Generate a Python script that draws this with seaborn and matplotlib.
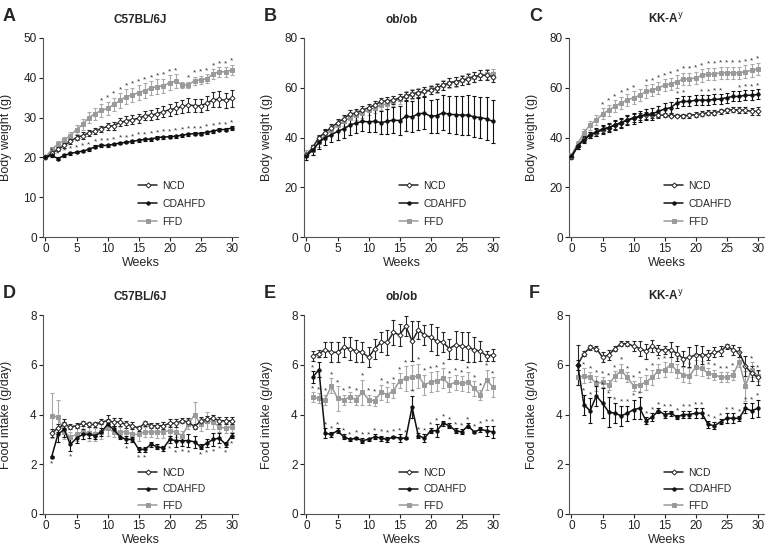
import numpy as np
import pandas as pd
import matplotlib
matplotlib.use("Agg")
import matplotlib.pyplot as plt
import seaborn as sns

sns.set_theme(style="ticks")
plt.rcParams['font.family'] = ['Liberation Sans', 'DejaVu Sans']

weeks_bw = list(range(0, 31))
weeks_fi = list(range(1, 31))
diets = ["NCD", "CDAHFD", "FFD"]

# ---------- Body weight (A-C) ----------
A_NCD = [20, 21, 22, 23, 24, 25, 25.5, 26.2, 26.7, 27.2, 27.8, 28, 28.8, 29.2, 29.5, 29.8, 30.5, 30.6, 31, 31.5, 32, 32.3, 32.8, 33.2, 33, 33, 33.6, 34.5, 34.6, 34.3, 34.8]
A_NCD_err = [0.3, 0.4, 0.5, 0.6, 0.6, 0.7, 0.8, 0.8, 0.8, 0.8, 0.9, 1.0, 1.0, 1.1, 1.1, 1.2, 1.2, 1.3, 1.3, 1.4, 1.5, 1.5, 1.6, 1.7, 1.7, 1.7, 1.8, 1.9, 2.0, 2.0, 2.1]
A_CDAHFD = [20, 20.5, 19.7, 20.5, 21, 21.3, 21.6, 22, 22.7, 23, 23, 23.3, 23.6, 23.8, 24, 24.3, 24.5, 24.6, 25, 25.1, 25.2, 25.3, 25.6, 25.8, 26, 26, 26.3, 26.6, 27, 27, 27.4]
A_CDAHFD_err = [0.3] * 15 + [0.4] * 16
A_FFD = [20, 22, 23.3, 24.3, 25.5, 27, 28.3, 30, 31, 31.8, 32.3, 33.3, 34.3, 35.3, 35.7, 36.3, 36.8, 37.4, 37.8, 38, 38.8, 39.2, 38.2, 38.2, 39.3, 39.5, 39.8, 41, 41.5, 41.5, 42]
A_FFD_err = [0.3, 0.5, 0.7, 0.8, 1.0, 1.1, 1.3, 1.4, 1.5, 1.6, 1.7, 1.7, 1.8, 1.8, 1.8, 1.8, 1.8, 1.8, 1.8, 1.8, 1.8, 1.7, 0.8, 0.8, 1.0, 1.0, 1.1, 1.2, 1.2, 1.2, 1.3]
A_star_CDAHFD = list(range(1, 31))
A_star_FFD = list(range(9, 22)) + list(range(23, 31))

B_NCD = [33, 36, 40, 42, 44, 46, 47.5, 49.5, 49.8, 51, 52, 53, 54.5, 54.7, 55, 56, 56.5, 57.5, 58, 58.5, 59, 60, 61, 62, 62.5, 63, 63.5, 64.5, 65, 65, 64.5]
B_NCD_err = [1.0, 1.0, 1.2, 1.3, 1.4, 1.4, 1.5, 1.5, 1.5, 1.5, 1.5, 1.5, 1.5, 1.5, 1.5, 1.5, 1.6, 1.6, 1.6, 1.7, 1.7, 1.7, 1.8, 1.8, 1.8, 1.9, 1.9, 2.0, 2.0, 2.0, 2.0]
B_CDAHFD = [32.5, 35, 38, 40, 41, 42.5, 43.5, 45, 45.8, 46.5, 46.3, 46.5, 46, 46.5, 47, 46.8, 48.5, 48.3, 49.5, 49.8, 48.5, 48.8, 50, 49.3, 49.2, 49, 49, 48.3, 48, 47.5, 46.5]
B_CDAHFD_err = [1.5, 2, 2.5, 3, 3, 3.5, 3.5, 4, 4, 4, 4.2, 4.4, 4.7, 5, 5.3, 5.8, 6, 6.2, 6.3, 6.4, 6.5, 6.8, 7, 7.3, 7.6, 7.8, 8, 8.2, 8.4, 8.6, 8.7]
B_FFD = [33.5, 35, 38, 41, 43, 45, 46.5, 48, 49, 50, 51, 52, 53, 53.5, 54.5, 55.5, 56.5, 57.5, 58, 58.5, 59.3, 60, 61, 62, 62.5, 63, 64, 64.5, 65, 65.5, 65.5]
B_FFD_err = [1.5] + [2.0] * 30
B_star_CDAHFD = []
B_star_FFD = []

C_NCD = [32, 36.5, 39.5, 41, 42, 43, 44, 45, 46, 47, 48, 48.5, 49, 49, 49, 49, 48.7, 48.7, 48.7, 49, 49.2, 49.5, 50, 50, 50.5, 51, 51.2, 51, 51, 50.5, 50.5]
C_NCD_err = [0.8, 1.0, 1.2, 1.3, 1.4, 1.5, 1.5, 1.6, 1.6, 1.6, 1.6, 1.5, 1.4, 1.3, 1.0, 0.8, 0.6, 0.6, 0.8, 1.0, 1.0, 1.0, 1.0, 1.0, 1.0, 1.0, 1.0, 1.2, 1.3, 1.5, 1.6]
C_CDAHFD = [32.5, 36.5, 39, 41, 42.3, 43.5, 44, 45, 46, 47, 47.7, 48.5, 49.3, 49.5, 50.5, 51.5, 52, 54, 54.5, 54.5, 55, 55, 55, 55.3, 55.5, 56, 56.5, 56.5, 57, 57, 57.3]
C_CDAHFD_err = [0.8, 1.0, 1.2, 1.4, 1.5, 1.6, 1.8, 2.0, 2.0, 2.0, 2.2, 2.2, 2.3, 2.3, 2.3, 2.3, 2.3, 2.0, 2.0, 2.0, 2.0, 2.0, 2.0, 2.0, 2.0, 2.0, 2.0, 2.0, 2.0, 2.0, 2.0]
C_FFD = [33, 37.5, 42, 45, 47, 49.5, 51, 52.5, 54, 55, 56, 57, 58.5, 59, 60, 61, 61.5, 62.5, 63.5, 63.5, 64, 65, 65.5, 65.5, 66, 66, 66, 66, 66.5, 67, 67.5]
C_FFD_err = [0.8, 1.2, 1.6, 1.8, 2.0, 2.2, 2.2, 2.4, 2.4, 2.5, 2.5, 2.5, 2.5, 2.5, 2.5, 2.5, 2.5, 2.5, 2.5, 2.5, 2.5, 2.5, 2.5, 2.5, 2.5, 2.5, 2.5, 2.5, 2.5, 2.5, 2.5]
C_star_CDAHFD = [17, 18, 21, 22, 23, 24, 27, 28, 29, 30]
C_star_FFD = [5, 6, 7, 8, 9, 10] + list(range(12, 31))

# ---------- Food intake (D-F) ----------
D_NCD = [3.25, 3.45, 3.6, 3.5, 3.55, 3.65, 3.6, 3.6, 3.7, 3.75, 3.7, 3.7, 3.6, 3.55, 3.45, 3.65, 3.55, 3.55, 3.55, 3.65, 3.65, 3.75, 3.7, 3.5, 3.75, 3.8, 3.85, 3.75, 3.75, 3.75]
D_NCD_err = [0.15, 0.15, 0.2, 0.1, 0.1, 0.1, 0.1, 0.1, 0.1, 0.25, 0.15, 0.15, 0.15, 0.15, 0.1, 0.1, 0.1, 0.1, 0.15, 0.15, 0.15, 0.1, 0.15, 0.1, 0.15, 0.15, 0.15, 0.15, 0.15, 0.15]
D_CDAHFD = [2.3, 3.2, 3.4, 2.8, 3.05, 3.2, 3.2, 3.15, 3.3, 3.6, 3.4, 3.1, 3.0, 3.0, 2.6, 2.6, 2.8, 2.7, 2.65, 3.0, 2.95, 2.95, 2.95, 2.9, 2.7, 2.85, 3.0, 3.05, 2.8, 3.15]
D_CDAHFD_err = [0.05, 0.3, 0.3, 0.25, 0.2, 0.2, 0.15, 0.15, 0.15, 0.2, 0.15, 0.1, 0.15, 0.1, 0.1, 0.1, 0.1, 0.1, 0.1, 0.15, 0.25, 0.2, 0.25, 0.25, 0.1, 0.15, 0.25, 0.2, 0.1, 0.1]
D_FFD = [3.95, 3.9, 3.3, 3.1, 3.2, 3.3, 3.25, 3.2, 3.3, 3.45, 3.3, 3.3, 3.3, 3.2, 3.2, 3.3, 3.3, 3.3, 3.3, 3.35, 3.3, 3.15, 3.6, 4.0, 3.6, 3.75, 3.7, 3.5, 3.45, 3.5]
D_FFD_err = [0.9, 0.7, 0.3, 0.2, 0.25, 0.3, 0.3, 0.25, 0.3, 0.3, 0.2, 0.2, 0.3, 0.25, 0.25, 0.2, 0.2, 0.25, 0.25, 0.2, 0.2, 0.2, 0.2, 0.5, 0.25, 0.35, 0.3, 0.2, 0.2, 0.2]
D_star_CDAHFD = [1, 4, 13, 15, 16, 20, 21, 22, 23, 25, 26, 27, 28, 29, 30]
D_star_FFD = []

E_NCD = [6.35, 6.45, 6.6, 6.5, 6.5, 6.7, 6.65, 6.55, 6.5, 6.3, 6.65, 6.9, 6.9, 7.3, 7.2, 7.55, 6.95, 7.4, 7.2, 7.1, 6.95, 6.9, 6.65, 6.8, 6.75, 6.7, 6.6, 6.55, 6.35, 6.4]
E_NCD_err = [0.2, 0.15, 0.3, 0.4, 0.4, 0.4, 0.45, 0.45, 0.4, 0.4, 0.4, 0.4, 0.5, 0.5, 0.45, 0.4, 0.8, 0.35, 0.4, 0.55, 0.55, 0.4, 0.4, 0.55, 0.55, 0.6, 0.5, 0.4, 0.2, 0.25]
E_CDAHFD = [5.5, 5.8, 3.25, 3.2, 3.35, 3.1, 3.0, 3.05, 2.95, 3.0, 3.1, 3.05, 3.0, 3.1, 3.05, 3.05, 4.3, 3.15, 3.05, 3.35, 3.35, 3.65, 3.55, 3.35, 3.3, 3.55, 3.3, 3.4, 3.35, 3.3]
E_CDAHFD_err = [0.25, 0.3, 0.2, 0.1, 0.1, 0.1, 0.05, 0.05, 0.1, 0.05, 0.1, 0.1, 0.1, 0.05, 0.15, 0.05, 0.45, 0.1, 0.15, 0.1, 0.25, 0.1, 0.1, 0.1, 0.1, 0.1, 0.05, 0.1, 0.2, 0.25]
E_FFD = [4.7, 4.65, 4.6, 5.15, 4.65, 4.6, 4.7, 4.6, 4.9, 4.6, 4.55, 4.9, 4.8, 4.95, 5.35, 5.45, 5.5, 5.55, 5.2, 5.3, 5.35, 5.45, 5.2, 5.3, 5.25, 5.3, 5.05, 4.8, 5.4, 5.1]
E_FFD_err = [0.2, 0.2, 0.2, 0.3, 0.5, 0.2, 0.2, 0.2, 0.5, 0.2, 0.2, 0.3, 0.3, 0.3, 0.3, 0.5, 0.5, 0.5, 0.4, 0.4, 0.4, 0.4, 0.3, 0.3, 0.3, 0.4, 0.3, 0.2, 0.4, 0.4]
E_star_CDAHFD = list(range(1, 31))
E_star_FFD = [1, 2, 3, 4, 5, 6, 7, 8, 9, 10, 11, 12, 13, 14, 15, 16, 18, 19, 20, 21, 22, 23, 24, 25, 26, 27, 28, 29, 30]

F_NCD = [6.0, 6.45, 6.7, 6.65, 6.3, 6.4, 6.65, 6.85, 6.85, 6.75, 6.65, 6.55, 6.75, 6.6, 6.6, 6.6, 6.45, 6.25, 6.3, 6.4, 6.4, 6.4, 6.5, 6.55, 6.75, 6.6, 6.5, 5.95, 5.65, 5.5]
F_NCD_err = [0.8, 0.1, 0.1, 0.1, 0.2, 0.2, 0.1, 0.1, 0.1, 0.2, 0.3, 0.3, 0.25, 0.2, 0.15, 0.3, 0.3, 0.3, 0.4, 0.4, 0.35, 0.2, 0.2, 0.2, 0.1, 0.2, 0.2, 0.4, 0.3, 0.3]
F_CDAHFD = [6.0, 4.4, 4.15, 4.75, 4.45, 4.1, 4.05, 3.95, 4.05, 4.2, 4.25, 3.75, 3.9, 4.15, 4.0, 4.05, 3.9, 4.0, 4.0, 4.05, 4.05, 3.6, 3.55, 3.7, 3.85, 3.85, 3.85, 4.25, 4.15, 4.25]
F_CDAHFD_err = [0.2, 0.4, 0.5, 0.4, 0.6, 0.6, 0.4, 0.4, 0.3, 0.4, 0.45, 0.15, 0.15, 0.1, 0.15, 0.1, 0.1, 0.15, 0.15, 0.2, 0.2, 0.15, 0.15, 0.1, 0.2, 0.2, 0.1, 0.2, 0.3, 0.35]
F_FFD = [5.5, 5.55, 5.5, 5.25, 5.3, 5.2, 5.55, 5.75, 5.5, 5.15, 5.2, 5.3, 5.5, 5.75, 5.8, 6.0, 5.75, 5.6, 5.55, 5.9, 5.85, 5.65, 5.6, 5.5, 5.5, 5.6, 6.1, 5.15, 5.8, 5.55]
F_FFD_err = [0.3, 0.3, 0.2, 0.3, 0.2, 0.2, 0.2, 0.3, 0.2, 0.2, 0.3, 0.3, 0.3, 0.3, 0.3, 0.3, 0.3, 0.3, 0.3, 0.3, 0.3, 0.2, 0.2, 0.2, 0.2, 0.2, 0.2, 0.6, 0.3, 0.2]
F_star_CDAHFD = list(range(2, 31))
F_star_FFD = list(range(2, 31))

panels = [
    dict(letter="A", title="C57BL/6J", weeks=weeks_bw, ylim=(0, 50), yticks=[0, 10, 20, 30, 40, 50],
         ylabel="Body weight (g)",
         mean={"NCD": A_NCD, "CDAHFD": A_CDAHFD, "FFD": A_FFD},
         err={"NCD": A_NCD_err, "CDAHFD": A_CDAHFD_err, "FFD": A_FFD_err},
         stars={"CDAHFD": A_star_CDAHFD, "FFD": A_star_FFD}, below=False),
    dict(letter="B", title="ob/ob", weeks=weeks_bw, ylim=(0, 80), yticks=[0, 20, 40, 60, 80],
         ylabel="Body weight (g)",
         mean={"NCD": B_NCD, "CDAHFD": B_CDAHFD, "FFD": B_FFD},
         err={"NCD": B_NCD_err, "CDAHFD": B_CDAHFD_err, "FFD": B_FFD_err},
         stars={"CDAHFD": B_star_CDAHFD, "FFD": B_star_FFD}, below=False),
    dict(letter="C", title="KK-A$^{\\mathrm{y}}$", weeks=weeks_bw, ylim=(0, 80), yticks=[0, 20, 40, 60, 80],
         ylabel="Body weight (g)",
         mean={"NCD": C_NCD, "CDAHFD": C_CDAHFD, "FFD": C_FFD},
         err={"NCD": C_NCD_err, "CDAHFD": C_CDAHFD_err, "FFD": C_FFD_err},
         stars={"CDAHFD": C_star_CDAHFD, "FFD": C_star_FFD}, below=False),
    dict(letter="D", title="C57BL/6J", weeks=weeks_fi, ylim=(0, 8), yticks=[0, 2, 4, 6, 8],
         ylabel="Food intake (g/day)",
         mean={"NCD": D_NCD, "CDAHFD": D_CDAHFD, "FFD": D_FFD},
         err={"NCD": D_NCD_err, "CDAHFD": D_CDAHFD_err, "FFD": D_FFD_err},
         stars={"CDAHFD": D_star_CDAHFD, "FFD": D_star_FFD}, below=True),
    dict(letter="E", title="ob/ob", weeks=weeks_fi, ylim=(0, 8), yticks=[0, 2, 4, 6, 8],
         ylabel="Food intake (g/day)",
         mean={"NCD": E_NCD, "CDAHFD": E_CDAHFD, "FFD": E_FFD},
         err={"NCD": E_NCD_err, "CDAHFD": E_CDAHFD_err, "FFD": E_FFD_err},
         stars={"CDAHFD": E_star_CDAHFD, "FFD": E_star_FFD}, below=False),
    dict(letter="F", title="KK-A$^{\\mathrm{y}}$", weeks=weeks_fi, ylim=(0, 8), yticks=[0, 2, 4, 6, 8],
         ylabel="Food intake (g/day)",
         mean={"NCD": F_NCD, "CDAHFD": F_CDAHFD, "FFD": F_FFD},
         err={"NCD": F_NCD_err, "CDAHFD": F_CDAHFD_err, "FFD": F_FFD_err},
         stars={"CDAHFD": F_star_CDAHFD, "FFD": F_star_FFD}, below=False),
]

colors = {"NCD": "#262626", "CDAHFD": "#111111", "FFD": "#9a9a9a"}
markers = {"NCD": "D", "CDAHFD": "o", "FFD": "s"}
msize = {"NCD": 2.6, "CDAHFD": 2.4, "FFD": 3.0}

W, H = 772, 552
fig = plt.figure(figsize=(W / 100, H / 100), dpi=100)

col_x = [43, 304, 569]
row_y = [38, 315]
ax_w, ax_h = 195, 199

for i, p in enumerate(panels):
    r, c = divmod(i, 3)
    x0, y0 = col_x[c], row_y[r]
    ax = fig.add_axes([x0 / W, 1 - (y0 + ax_h) / H, ax_w / W, ax_h / H])
    rows = []
    for d in diets:
        for w, v in zip(p["weeks"], p["mean"][d]):
            rows.append({"week": w, "value": v, "diet": d})
    df = pd.DataFrame(rows)
    for d in ["FFD", "NCD", "CDAHFD"]:
        ax.errorbar(p["weeks"], p["mean"][d], yerr=p["err"][d], fmt="none",
                    ecolor=colors[d] if d != "FFD" else "#a8a8a8", elinewidth=0.8, capsize=1.6,
                    capthick=0.8, zorder=2)
    sns.lineplot(data=df, x="week", y="value", hue="diet", style="diet",
                 hue_order=["FFD", "NCD", "CDAHFD"], style_order=["FFD", "NCD", "CDAHFD"],
                 palette=colors, markers=markers, dashes=False, ax=ax, legend=False,
                 linewidth=1.1, markersize=3, markeredgewidth=0.7, zorder=3)
    line_by = {}
    for ln, d in zip(ax.lines[-3:], ["FFD", "NCD", "CDAHFD"]):
        line_by[d] = ln
        ln.set_markersize(msize[d])
        ln.set_markeredgecolor(colors[d])
        if d == "NCD":
            ln.set_markerfacecolor("white")
        else:
            ln.set_markerfacecolor(colors[d])
    # significance stars
    for d, wk_list in p["stars"].items():
        m = dict(zip(p["weeks"], p["mean"][d]))
        e = dict(zip(p["weeks"], p["err"][d]))
        span = p["ylim"][1] - p["ylim"][0]
        for wk in wk_list:
            if p["below"]:
                yv = m[wk] - e[wk] - span * 0.012
                va = "top"
            else:
                yv = m[wk] + e[wk]
                va = "bottom"
            ax.text(wk, yv, "*", ha="center", va=va, fontsize=6, color="#333333", zorder=4)
    ax.set_xlim(-0.4, 31.0)
    ax.set_ylim(*p["ylim"])
    ax.set_xticks([0, 5, 10, 15, 20, 25, 30])
    ax.set_yticks(p["yticks"])
    ax.set_xlabel("Weeks", fontsize=9, labelpad=1)
    ax.set_ylabel(p["ylabel"], fontsize=9)
    ax.yaxis.set_label_coords(-31 / ax_w, 0.5)
    ax.set_title(p["title"], fontsize=8.5, fontweight="bold", pad=11)
    ax.tick_params(labelsize=8.5, length=3, width=0.8, colors="#222222", pad=1.5)
    for s in ["top", "right"]:
        ax.spines[s].set_visible(False)
    for s in ["left", "bottom"]:
        ax.spines[s].set_color("#555555")
        ax.spines[s].set_linewidth(0.8)
    ax.set_facecolor("white")
    handles = [line_by["NCD"], line_by["CDAHFD"], line_by["FFD"]]
    if r == 0:
        anchor, lsp = (0.44, 0.005), 0.75
    else:
        anchor, lsp = (0.44, -0.03), 0.6
    ax.legend(handles, ["NCD", "CDAHFD", "FFD"], loc="lower left", bbox_to_anchor=anchor,
              frameon=False, fontsize=7.5, handlelength=1.8, labelspacing=lsp, handletextpad=0.5)
    fig.text((x0 - 40) / W, 1 - (y0 - 30) / H, p["letter"], fontsize=13, fontweight="bold",
             ha="left", va="top")

fig.savefig("out.png", dpi=100, facecolor="white")
